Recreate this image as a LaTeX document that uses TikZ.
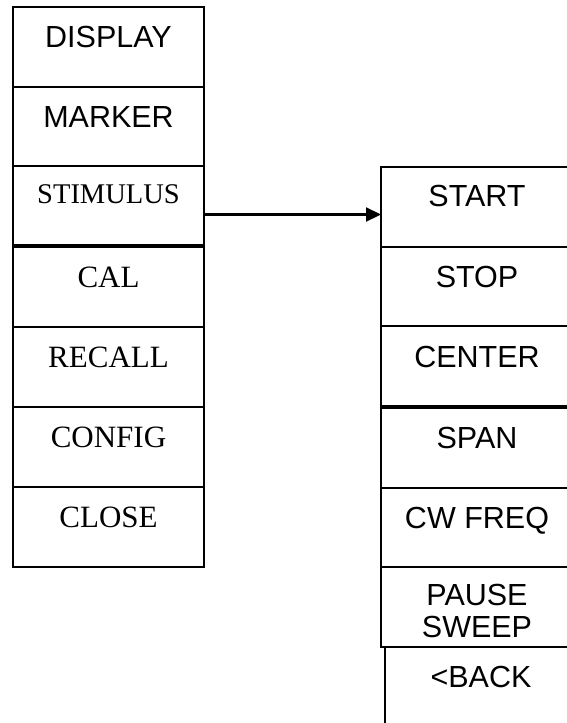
\documentclass[tikz,border=0pt]{standalone}
\usepackage{fontspec}
\setmainfont{Liberation Serif}
\setsansfont{Liberation Sans}
\usetikzlibrary{arrows.meta}
\tikzset{
  menu/.style={draw, line width=2.1pt, anchor=north west, inner sep=0pt, outer sep=0pt},
  lcell/.style={menu, minimum width=191pt},
  rcell/.style={menu, minimum width=192pt},
  keytext/.style={anchor=center, inner sep=0pt, yshift=-30pt, text depth=0pt},
  sanskey/.style={keytext, font=\sffamily\fontsize{30.5}{32}\selectfont},
  serifkey/.style={keytext, font=\rmfamily\fontsize{31}{34}\selectfont},
  link/.style={line width=2.2pt, -{Triangle[length=15pt,width=14pt]}}
}
\begin{document}
\begin{tikzpicture}[x=1pt,y=-1pt]
\clip (0,0) rectangle (567,723);
% main menu column
\node[lcell, minimum height=80pt, label={[sanskey]north:DISPLAY}] (display) at (13,7) {};
\node[lcell, minimum height=79pt, label={[sanskey]north:MARKER}] (marker) at (13,87) {};
\node[lcell, minimum height=79pt, label={[serifkey, font=\rmfamily\fontsize{28.5}{32}\selectfont, yshift=2pt]north:STIMULUS}] (stim) at (13,166) {};
\node[lcell, minimum height=80pt, label={[serifkey]north:CAL}] (cal) at (13,247) {};
\node[lcell, minimum height=80pt, label={[serifkey]north:RECALL}] (recall) at (13,327) {};
\node[lcell, minimum height=80pt, label={[serifkey]north:CONFIG}] (config) at (13,407) {};
\node[lcell, minimum height=80pt, label={[serifkey]north:CLOSE}] (close) at (13,487) {};
% stimulus submenu column
\node[rcell, minimum height=80pt, label={[sanskey, yshift=1pt]north:START}] (start) at (381,167) {};
\node[rcell, minimum height=79pt, label={[sanskey]north:STOP}] (stop) at (381,247) {};
\node[rcell, minimum height=80pt, label={[sanskey, yshift=-1pt]north:CENTER}] (center) at (381,326) {};
\node[rcell, minimum height=80pt, label={[sanskey]north:SPAN}] (span) at (381,408) {};
\node[rcell, minimum height=79pt, label={[sanskey]north:CW FREQ}] (cwfreq) at (381,488) {};
\node[rcell, minimum height=80pt, label={[sanskey, align=center, yshift=-14pt]north:PAUSE\\SWEEP}] (pause) at (381,567) {};
\node[rcell, minimum height=80pt, label={[sanskey]north:{<BACK}}] (back) at (385,647) {};
% link from STIMULUS to its submenu
\draw[link] ([yshift=-9pt]stim.east) -- ([yshift=-9pt]stim.east -| start.west);
\end{tikzpicture}
\end{document}
